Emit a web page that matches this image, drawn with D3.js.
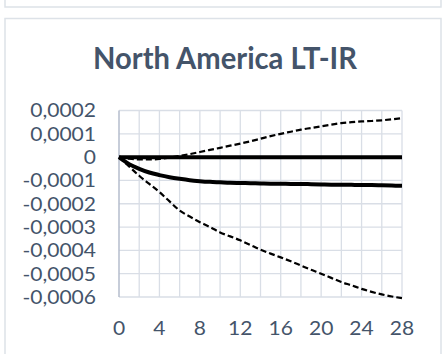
<!DOCTYPE html>
<html>
<head>
<meta charset="utf-8">
<script src="https://cdn.jsdelivr.net/npm/d3@7"></script>
<style>
  html, body { margin: 0; padding: 0; background: #ffffff; }
  svg { display: block; }
</style>
</head>
<body>
<div id="chart"></div>
<script>
// ---- Data ----
const chartTitle = "North America LT-IR";
const horizons = d3.range(0, 29); // 0..28
const zeroLine = [0,0,0,0,0,0,0,0,0,0,0,0,0,0,0,0,0,0,0,0,0,0,0,0,0,0,0,0,0];
const meanResponse = [0,-0.00003,-0.00005,-0.000066,-0.000077,-0.000086,-0.000093,-0.000099,-0.000103,-0.000106,-0.000108,-0.00011,-0.000111,-0.000112,-0.000113,-0.000114,-0.000114,-0.000115,-0.000115,-0.000116,-0.000117,-0.000118,-0.000118,-0.000119,-0.00012,-0.00012,-0.000121,-0.000122,-0.000123];
const upperBand = [0,-0.000007,-0.00001,-0.00001,-0.000008,-0.000002,0.000005,0.000013,0.000022,0.000031,0.00004,0.000049,0.000058,0.000068,0.000079,0.00009,0.0001,0.000109,0.000118,0.000125,0.000132,0.000139,0.000146,0.00015,0.000153,0.000155,0.000158,0.000162,0.000167];
const lowerBand = [0,-0.00004,-0.00008,-0.000115,-0.00015,-0.00019,-0.000229,-0.000255,-0.000279,-0.0003,-0.000323,-0.00034,-0.000357,-0.000377,-0.000397,-0.000414,-0.00043,-0.000447,-0.000465,-0.000483,-0.0005,-0.000518,-0.000536,-0.00055,-0.000565,-0.000578,-0.000589,-0.000598,-0.000605];
const yTickValues = [0.0002, 0.0001, 0, -0.0001, -0.0002, -0.0003, -0.0004, -0.0005, -0.0006];
const yTickLabels = ["0,0002", "0,0001", "0", "-0,0001", "-0,0002", "-0,0003", "-0,0004", "-0,0005", "-0,0006"];
const xGridValues = d3.range(0, 29, 2);
const xTickValues = [0, 4, 8, 12, 16, 20, 24, 28];

// ---- Layout ----
const W = 445, H = 354;
const plot = { left: 119, right: 402, top: 110.5, bottom: 297 };
const textColor = "#44546a";
const gridColor = "#d9dee6";
const borderColor = "#dde2e8";
const fontFamily = "Lato, 'Open Sans', sans-serif";
const tickFont = 19.3;
const widen = 1.09;

const svg = d3.select("#chart").append("svg")
  .attr("width", W).attr("height", H);

svg.append("rect").attr("width", W).attr("height", H).attr("fill", "#ffffff");

// card borders
svg.append("path")
  .attr("d", "M5,0 L5,7 L441,7 L441,0")
  .attr("fill", "none").attr("stroke", borderColor).attr("stroke-width", 1.5);
svg.append("rect")
  .attr("x", 5).attr("y", 18.5).attr("width", 436).attr("height", 350)
  .attr("fill", "#ffffff").attr("stroke", borderColor).attr("stroke-width", 1.5);

// title
svg.append("text")
  .attr("x", 225).attr("y", 68.5)
  .attr("text-anchor", "middle")
  .attr("font-family", fontFamily)
  .attr("font-weight", "bold")
  .attr("font-size", 30)
  .attr("textLength", 264)
  .attr("lengthAdjust", "spacingAndGlyphs")
  .attr("fill", textColor)
  .text(chartTitle);

const x = d3.scaleLinear().domain([0, 28]).range([plot.left, plot.right]);
const y = d3.scaleLinear().domain([-0.0006, 0.0002]).range([plot.bottom, plot.top]);

// gridlines
const grid = svg.append("g");
grid.selectAll("line.h").data(yTickValues).join("line")
  .attr("x1", plot.left).attr("x2", plot.right)
  .attr("y1", d => y(d)).attr("y2", d => y(d))
  .attr("stroke", gridColor).attr("stroke-width", 1.3);
grid.selectAll("line.v").data(xGridValues.slice(1)).join("line")
  .attr("x1", d => x(d)).attr("x2", d => x(d))
  .attr("y1", plot.top).attr("y2", plot.bottom)
  .attr("stroke", gridColor).attr("stroke-width", 1.3);

// left axis line
svg.append("line")
  .attr("x1", plot.left).attr("x2", plot.left)
  .attr("y1", plot.top).attr("y2", plot.bottom)
  .attr("stroke", "#b4bdcc").attr("stroke-width", 1.5);

function stretch(sel) {
  sel.each(function() {
    const len = this.getComputedTextLength();
    d3.select(this).attr("textLength", len * widen).attr("lengthAdjust", "spacingAndGlyphs");
  });
}

// y labels
svg.append("g").selectAll("text").data(yTickValues).join("text")
  .attr("x", 96).attr("y", d => y(d))
  .attr("dy", "0.36em")
  .attr("text-anchor", "end")
  .attr("font-family", fontFamily)
  .attr("font-size", tickFont)
  .attr("fill", textColor)
  .text((d, i) => yTickLabels[i])
  .call(stretch);

// x labels
svg.append("g").selectAll("text").data(xTickValues).join("text")
  .attr("x", d => x(d)).attr("y", 334.5)
  .attr("text-anchor", "middle")
  .attr("font-family", fontFamily)
  .attr("font-size", tickFont)
  .attr("fill", textColor)
  .text(d => d)
  .call(stretch);

// lines
const line = d3.line()
  .x((d, i) => x(horizons[i]))
  .y(d => y(d))
  .curve(d3.curveMonotoneX);

const series = [
  { values: zeroLine, width: 4, dash: null },
  { values: meanResponse, width: 4, dash: null },
  { values: upperBand, width: 2.2, dash: "6,3" },
  { values: lowerBand, width: 2.2, dash: "6,3" }
];

svg.append("g").selectAll("path").data(series).join("path")
  .attr("d", d => line(d.values))
  .attr("fill", "none")
  .attr("stroke", "#000000")
  .attr("stroke-width", d => d.width)
  .attr("stroke-linejoin", "round")
  .attr("stroke-dasharray", d => d.dash);
</script>
</body>
</html>
